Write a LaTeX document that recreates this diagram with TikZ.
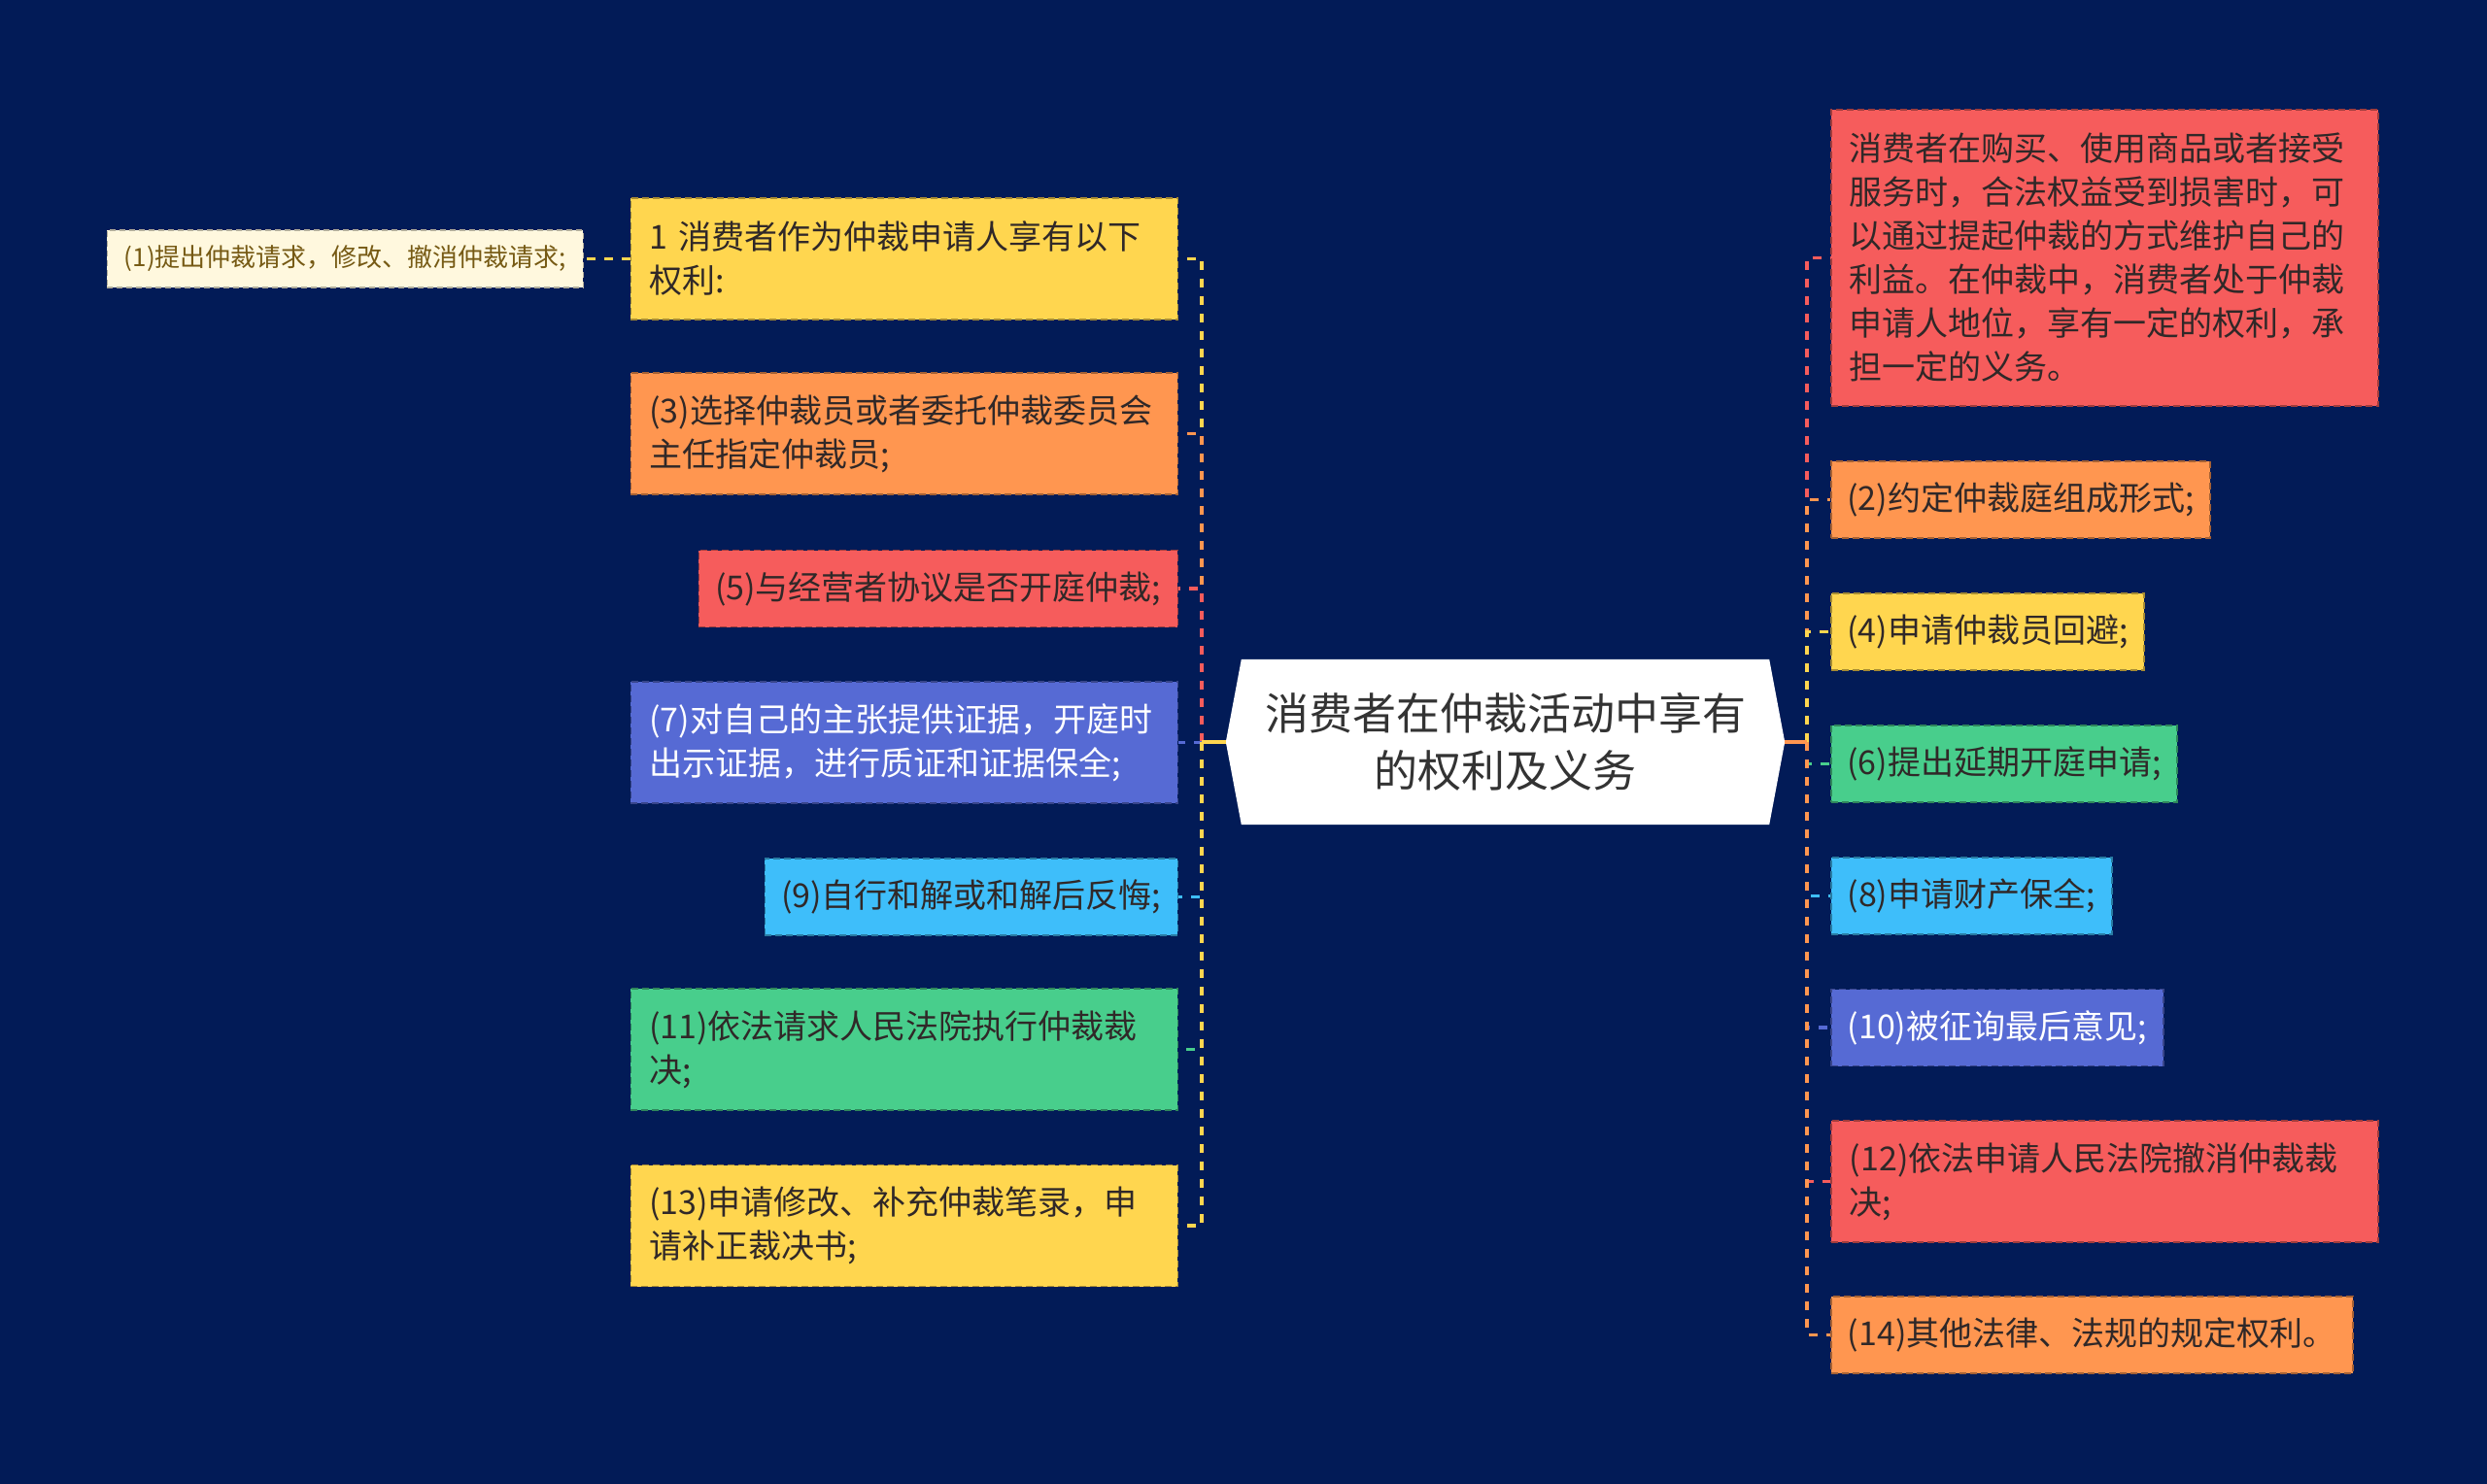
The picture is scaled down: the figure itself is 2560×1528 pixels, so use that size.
\documentclass[tikz,border=0pt]{standalone}
\usepackage{fontspec}
\setmainfont{Noto Sans CJK SC}
\pgfdeclarelayer{bg}
\pgfsetlayers{bg,main}
\definecolor{navy}{RGB}{2,27,87}
\definecolor{cyel}{RGB}{255,214,79}
\definecolor{cora}{RGB}{255,150,80}
\definecolor{cred}{RGB}{246,92,92}
\definecolor{cind}{RGB}{86,106,212}
\definecolor{cblu}{RGB}{62,190,250}
\definecolor{cgrn}{RGB}{72,206,140}
\definecolor{ccrm}{RGB}{255,248,222}
\definecolor{txtd}{RGB}{48,40,40}
\definecolor{txto}{RGB}{118,90,20}
\definecolor{txtc}{RGB}{51,51,51}
\tikzset{
  box/.style={rectangle, fill=#1, draw=#1!65!black, line width=1.5pt,
    dash pattern=on 7pt off 4pt, inner xsep=19pt, inner ysep=0pt,
    font=\fontsize{34}{45}\selectfont, text=txtd, align=left},
  twoline/.style={text width=525pt, minimum height=125pt},
  oneline/.style={minimum height=79pt, inner xsep=16.5pt},
  conn/.style={line width=3.5pt, dash pattern=on 9pt off 9pt},
  root/.style={font=\fontsize{45}{59}\selectfont, text=txtc, align=center,
    minimum width=575pt, minimum height=170pt, inner sep=0pt},
  small/.style={rectangle, fill=ccrm, draw=ccrm!70!black, line width=1.2pt,
    dash pattern=on 6pt off 4pt, inner xsep=16pt, inner ysep=0pt,
    minimum height=59pt, font=\fontsize{26}{32}\selectfont, text=txto}
}
\begin{document}
\begin{tikzpicture}[x=1pt,y=-1pt]
\useasboundingbox (0,0) rectangle (2560,1528);
\begin{pgfonlayer}{bg}
\fill[navy] (0,0) rectangle (2560,1528);
\end{pgfonlayer}

% root
\node[root] (C) at (1549.5,764) {消费者在仲裁活动中享有\\的权利及义务};
\begin{pgfonlayer}{bg}
\fill[white] ([xshift=16pt]C.north west) -- ([xshift=-16pt]C.north east) -- (C.east)
  -- ([xshift=-16pt]C.south east) -- ([xshift=16pt]C.south west) -- (C.west) -- cycle;
\end{pgfonlayer}

\coordinate (TL) at (1237,764);
\coordinate (TR) at (1860,764);

% left boxes
\node[box=cyel, twoline, anchor=east] (L1) at (1213,266.5) {1 消费者作为仲裁申请人享有以下\\权利:};
\node[box=cora, twoline, anchor=east] (L2) at (1213,446.5) {(3)选择仲裁员或者委托仲裁委员会\\主任指定仲裁员;};
\node[box=cred, oneline, anchor=east, minimum width=493pt] (L3) at (1213,606) {(5)与经营者协议是否开庭仲裁;};
\node[box=cind, twoline, anchor=east, text=white] (L4) at (1213,764.5) {(7)对自己的主张提供证据，开庭时\\出示证据，进行质证和证据保全;};
\node[box=cblu, oneline, anchor=east, minimum width=425pt] (L5) at (1213,923.5) {(9)自行和解或和解后反悔;};
\node[box=cgrn, twoline, anchor=east] (L6) at (1213,1080.5) {(11)依法请求人民法院执行仲裁裁\\决;};
\node[box=cyel, twoline, anchor=east] (L7) at (1213,1262) {(13)申请修改、补充仲裁笔录，申\\请补正裁决书;};

% small node
\node[small, anchor=east, minimum width=490pt] (S) at (601,266.5) {(1)提出仲裁请求，修改、撤消仲裁请求;};

% right boxes
\node[box=cred, text width=525pt, minimum height=305pt, anchor=west] (R1) at (1884,265.5) {消费者在购买、使用商品或者接受\\服务时，合法权益受到损害时，可\\以通过提起仲裁的方式维护自己的\\利益。在仲裁中，消费者处于仲裁\\申请人地位，享有一定的权利，承\\担一定的义务。};
\node[box=cora, oneline, anchor=west, minimum width=390pt] (R2) at (1884,514.5) {(2)约定仲裁庭组成形式;};
\node[box=cyel, oneline, anchor=west, minimum width=322pt] (R3) at (1884,650.5) {(4)申请仲裁员回避;};
\node[box=cgrn, oneline, anchor=west, minimum width=356pt] (R4) at (1884,786.5) {(6)提出延期开庭申请;};
\node[box=cblu, oneline, anchor=west, minimum width=289pt] (R5) at (1884,922.5) {(8)申请财产保全;};
\node[box=cind, oneline, anchor=west, minimum width=342pt, text=white] (R6) at (1884,1058) {(10)被征询最后意见;};
\node[box=cred, twoline, anchor=west] (R7) at (1884,1216.5) {(12)依法申请人民法院撤消仲裁裁\\决;};
\node[box=cora, oneline, anchor=west, minimum width=537pt] (R8) at (1884,1374.5) {(14)其他法律、法规的规定权利。};

% connectors left
\foreach \n/\c in {L1/cyel, L2/cora, L3/cred, L4/cind, L5/cblu, L6/cgrn, L7/cyel}
  \draw[conn, draw=\c] (TL) |- (\n.east);
\draw[line width=3.5pt, cyel] (C.west) -- (TL);
% connectors right
\foreach \n/\c in {R1/cred, R2/cora, R3/cyel, R4/cgrn, R5/cblu, R6/cind, R7/cred, R8/cora}
  \draw[conn, draw=\c] (TR) |- (\n.west);
\draw[line width=3.5pt, cora] (C.east) -- (TR);
% small connector
\draw[conn, draw=cyel] (L1.west) -- (S.east);
\end{tikzpicture}
\end{document}
